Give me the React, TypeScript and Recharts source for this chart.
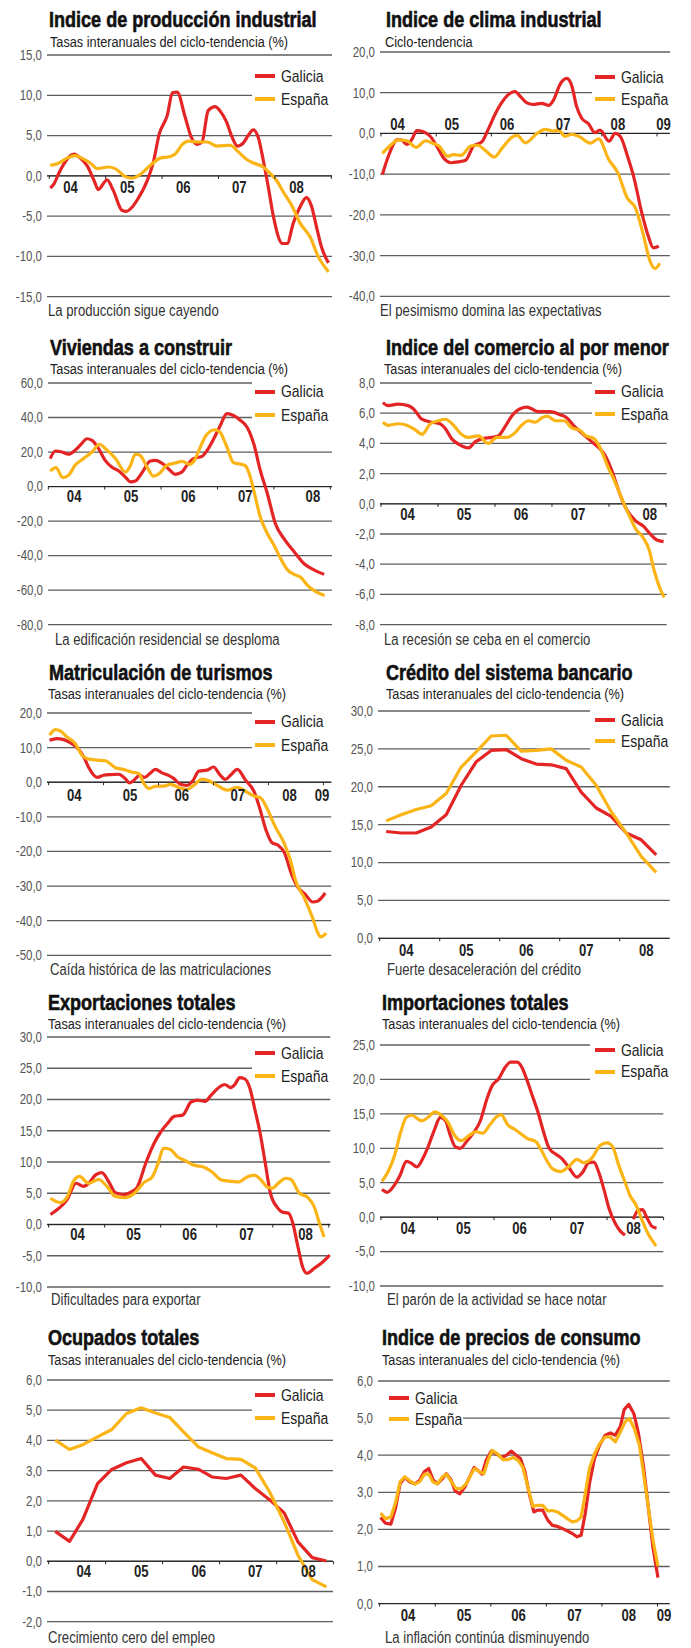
import React from 'react';
import { LineChart, Line, XAxis, YAxis, CartesianGrid, ReferenceLine, ReferenceDot } from 'recharts';

// [months since Jan 2004, value]
type Pt = [number, number | null];

const RED = '#e42526';
const YELLOW = '#fbb415';
// no condensed face is installed, so Liberation Sans is squeezed horizontally (like Arial Narrow)
const FONT = "'Liberation Sans', Arial, sans-serif";
const SQUEEZE = 0.82;

const yearNames = ['04', '05', '06', '07', '08', '09'];
const yearTicks = [0, 12, 24, 36, 48, 60];

// ---------- Indice de producción industrial ----------
const ipiTicks = [15, 10, 5, 0, -5, -10, -15];
const ipiYearPos = [4.5, 16.6, 28.5, 40.4, 52.6];
const ipiGalicia: Pt[] = [[0.2,-1.5],[1,-1.0],[2,0.3],[5.3,2.7],[6.6,2.2],[8.1,1.2],[9.6,-0.7],[10.4,-1.7],[12.3,-0.5],[13.6,-1.8],[15.5,-4.3],[16.4,-4.4],[17.6,-3.9],[18.7,-3.0],[20.9,-0.5],[22.1,1.6],[23.4,5.2],[25.1,7.5],[26.2,10.3],[27.2,10.4],[28.9,7.3],[30.2,4.8],[31.5,3.9],[32.5,4.2],[33.8,8.1],[35.3,8.6],[36.4,8.0],[37.7,6.7],[38.9,4.8],[40,3.7],[41.3,4.1],[42.3,5.0],[43.4,5.7],[44.5,4.7],[45.5,2.0],[46.6,-1.4],[47.7,-5.1],[49.6,-8.4],[50.6,-8.4],[51.9,-5.9],[53.4,-3.8],[54.7,-2.7],[55.7,-3.6],[57,-6.7],[57.9,-8.8],[59.4,-10.8]];
const ipiEspana: Pt[] = [[0.2,1.3],[1.7,1.5],[3.8,2.2],[5.5,2.5],[7.2,2.1],[8.7,1.6],[10.2,0.9],[12.6,1.1],[14,0.9],[16.2,-0.1],[17.6,-0.3],[19.4,0.2],[21.1,1.1],[23.6,2.2],[25.7,2.4],[26.8,2.7],[28.3,3.9],[29.6,4.3],[31.7,4.2],[33.6,4.2],[35.7,3.7],[38.5,3.8],[40,3.1],[42.1,2.0],[43.4,1.6],[45.5,1.1],[47,0.3],[48.5,-0.7],[49.8,-2.0],[51.7,-3.8],[53.4,-5.9],[55.5,-7.6],[57.2,-10.0],[59.4,-11.9]];

// ---------- Indice de clima industrial ----------
const climaTicks = [20, 10, 0, -10, -20, -30, -40];
const climaYearPos = [3.6, 15.4, 27.4, 39.6, 51.5, 61.4];
const climaGalicia: Pt[] = [[0.3,-10.1],[1.6,-5.6],[3.6,-1.5],[4.5,-1.6],[5.6,-2.7],[6.7,-1.5],[7.8,0.7],[9.2,0.4],[10.7,-0.7],[12.1,-3.1],[13.6,-6.0],[15.2,-7.2],[16.8,-7.0],[18.4,-6.6],[20.1,-3.1],[21.9,-2.1],[23.3,1.0],[24.8,4.7],[26.2,7.5],[28,9.8],[29.1,10.3],[30.2,9.2],[31.7,7.5],[33.1,7.1],[34.9,7.4],[36.4,6.9],[37.5,8.2],[38.9,12.0],[40.4,13.5],[41.5,11.6],[42.5,6.7],[43.6,3.8],[45.1,2.4],[46.5,0.2],[47.6,0.8],[49.6,-1.9],[50.9,0],[52,-0.7],[53.7,-6.0],[54.9,-10.5],[56.7,-19.5],[58.1,-25.2],[59.2,-28.1],[60.4,-27.7]];
const climaEspana: Pt[] = [[0.3,-4.9],[1.9,-3.1],[3.8,-1.6],[5.6,-1.8],[7.6,-3.4],[9.7,-1.8],[11.2,-2.4],[12.6,-3.1],[14.5,-5.6],[15.7,-5.2],[17.4,-5.4],[19.5,-3.1],[21,-2.9],[22.8,-4.3],[24.6,-5.8],[26.4,-3.5],[28.5,-0.9],[29.6,-0.5],[31.4,-2.3],[33.9,0],[35.7,1.0],[37.5,0.6],[38.6,0.8],[40,-0.7],[41.5,-0.2],[43,-0.7],[45.5,-2.4],[47.3,-1.3],[49.5,-6.4],[51.5,-9.7],[53.5,-15.8],[55.3,-18.3],[57.1,-25.2],[58.4,-31.1],[59.6,-33.2],[60.6,-31.9]];

// ---------- Viviendas a construir ----------
const vivTicks = [60, 40, 20, 0, -20, -40, -60, -80];
const vivYearPos = [5.5, 17.6, 29.8, 41.9, 56.3];
const vivGalicia: Pt[] = [[0.4,16.2],[1.5,20.6],[2.9,20.0],[4.3,18.7],[5.7,21.0],[7.2,25.2],[8.2,27.7],[9.3,26.8],[10.7,22.0],[12.1,15.2],[13.5,11.3],[15,9.0],[16.4,5.5],[17.5,2.7],[18.5,3.2],[19.9,7.9],[21.7,14.8],[22.8,15.2],[24.5,12.9],[25.9,9.4],[27,7.1],[28.4,8.3],[29.5,12.3],[30.9,16.2],[32.7,17.5],[33.8,21.0],[35.2,27.7],[36.6,35.4],[38,42.2],[39.4,41.2],[40.9,38.3],[42.3,34.4],[43.7,24.9],[45.1,9.4],[46.6,-4.0],[48.3,-21.4],[50.1,-30.1],[52.3,-37.8],[54.5,-44.9],[56.6,-48.4],[58.7,-50.9]];
const vivEspana: Pt[] = [[0.4,9.0],[1.6,11.0],[3.1,5.2],[4.3,6.5],[5.7,12.3],[7.5,16.2],[9.3,20.0],[10.9,24.5],[12.1,22.1],[14.3,16.2],[16.4,8.4],[17.5,12.3],[18.5,18.7],[19.5,18.1],[21,11.3],[22.4,6.0],[23.8,8.0],[25.2,12.3],[27,13.6],[28.5,14.6],[30,12.9],[31.1,15.2],[32.2,22.0],[33.6,29.7],[35.4,32.9],[36.5,31.6],[38,22.9],[39.4,13.9],[40.9,13.0],[41.9,12.1],[42.8,7.1],[43.7,-2.1],[45.1,-17.6],[46.6,-27.2],[48,-33.9],[49.4,-41.6],[50.8,-48.0],[52.3,-50.9],[53.7,-52.6],[55.1,-57.1],[56.9,-60.9],[58.8,-63.2]];

// ---------- Indice del comercio al por menor ----------
const comTicks = [8, 6, 4, 2, 0, -2, -4, -6, -8];
const comYearPos = [5.6, 17.5, 29.5, 41.5, 56.6];
const comGalicia: Pt[] = [[0.4,6.7],[1.5,6.5],[3.6,6.6],[5.7,6.5],[6.8,6.3],[8.6,5.6],[10.7,5.4],[12.4,5.3],[13.5,5.0],[14.9,4.3],[16.6,3.9],[18.4,3.7],[19.8,4.1],[21.2,4.3],[23.3,4.4],[24.7,4.5],[26.1,5.1],[27.5,5.8],[29.3,6.3],[30.7,6.4],[31.7,6.3],[33.1,6.1],[35.6,6.1],[37.7,5.9],[39.1,5.7],[40.5,5.2],[42.6,4.6],[44.4,4.1],[45.9,3.7],[47.2,3.2],[48.6,2.2],[50,0.9],[51.4,-0.2],[53.5,-1.1],[55.3,-1.5],[56.7,-2.0],[58.1,-2.4],[59.5,-2.5]];
const comEspana: Pt[] = [[0.4,5.4],[1.5,5.2],[3.6,5.3],[5.4,5.2],[7.2,4.9],[8.6,4.6],[10.4,5.3],[12.1,5.5],[13.5,5.6],[15.3,5.2],[16.6,4.7],[18.4,4.4],[20.5,4.5],[22.6,4.0],[24.4,4.4],[26.5,4.4],[28.2,4.7],[29.6,5.2],[31.1,5.5],[32.5,5.4],[33.9,5.7],[35,5.8],[36.8,5.5],[38.5,5.5],[40.3,5.0],[41.7,4.9],[43.2,4.5],[44.9,4.3],[46.3,3.6],[47.7,2.5],[49.2,1.5],[50.9,0.2],[52.3,-0.8],[53.7,-1.7],[55.1,-2.2],[56.5,-3.1],[57.5,-4.4],[58.6,-5.5],[59.6,-6.2]];

// ---------- Matriculación de turismos ----------
const matTicks = [20, 10, 0, -10, -20, -30, -40, -50];
const matYearPos = [5.6, 17.8, 29.1, 41.3, 52.6, 59.7];
const matGalicia: Pt[] = [[0.2,12.1],[1.8,12.6],[3.3,12.3],[4.8,11.4],[6.2,10.0],[7.7,7.3],[8.7,4.4],[10.6,1.4],[12,2.0],[13.5,2.2],[15.3,2.3],[16.7,1.1],[17.7,-0.2],[18.5,0.4],[19.9,2.0],[20.9,1.4],[22.1,2.5],[23.3,3.7],[24.8,2.7],[26.2,2.0],[27.3,1.1],[28.8,-0.6],[30.2,-0.9],[31.5,0.4],[32.8,3.2],[34.6,3.5],[36,4.4],[37.5,2.0],[38.6,0.8],[39.7,2.0],[41.2,3.7],[43,0.6],[44.9,-2.8],[46,-7.1],[47.5,-13.9],[48.8,-17.5],[50.1,-18.2],[51.5,-20.4],[53,-26.4],[54.4,-30.3],[55.9,-32.2],[57.7,-34.6],[58.8,-34.3],[60.4,-32.0]];
const matEspana: Pt[] = [[0.2,13.6],[1.5,15.2],[2.6,14.8],[4,13.1],[5.8,11.2],[7.3,7.8],[8.5,6.8],[10.6,6.4],[12.4,6.2],[14.6,4.2],[16.4,3.7],[18.2,2.9],[19.7,2.5],[20.8,-0.4],[21.9,-1.8],[23.3,-1.2],[25.2,-1.1],[26.6,-0.6],[28.4,-1.5],[30.2,-2.1],[31.7,-0.9],[33.5,0.9],[35,0.4],[36.8,-0.9],[39,-2.3],[41.2,-1.5],[42.6,-2.3],[44.9,-4.0],[46.3,-4.5],[47.7,-7.6],[49.5,-12.9],[51.4,-17.5],[52.8,-22.5],[53.9,-28.3],[55.9,-33.6],[57.7,-39.4],[58.7,-43.3],[59.4,-44.7],[60.6,-43.6]];

// ---------- Crédito del sistema bancario ----------
const credTicks = [30, 25, 20, 15, 10, 5, 0];
const credYearPos = [5.3, 17.3, 29.3, 41.3, 53.3];
const credGalicia: Pt[] = [[1.3,14.1],[4.3,13.9],[7.3,13.9],[10.3,14.7],[13.3,16.3],[16.3,20.2],[19.3,23.3],[22.3,24.8],[25.3,24.9],[28.3,23.7],[31.3,23.0],[34.3,22.9],[37.3,22.4],[40.3,19.3],[43.3,17.2],[46.3,16.1],[49.3,13.9],[52.3,13.0],[55.3,11.0]];
const credEspana: Pt[] = [[1.3,15.5],[4.3,16.3],[7.3,17.0],[10.3,17.5],[13.3,19.1],[16.3,22.6],[19.3,24.6],[22.3,26.7],[25.3,26.8],[28.3,24.7],[31.3,24.8],[34.3,25.0],[37.3,23.5],[40.3,22.6],[43.3,20.2],[46.3,16.7],[49.3,13.9],[52.3,10.8],[55.3,8.7]];

// ---------- Exportaciones totales ----------
const expTicks = [30, 25, 20, 15, 10, 5, 0, -5, -10];
const expYearPos = [6.2, 18.2, 30.2, 42.4, 55];
const expGalicia: Pt[] = [[0.4,1.6],[2.2,2.6],[3.9,3.9],[5.9,6.6],[7.5,6.1],[8.6,6.6],[10,7.9],[11.4,8.3],[12.9,6.8],[14.3,5.1],[16.1,4.8],[17.9,5.3],[19,6.0],[20.8,9.8],[22.6,13.0],[24,14.8],[25.5,16.2],[26.9,17.3],[28.7,17.5],[30.5,19.6],[31.9,19.9],[33.5,19.7],[34.8,20.7],[36.6,22.0],[37.7,22.4],[39,21.9],[39.9,22.4],[40.9,23.5],[42,23.3],[43.1,21.8],[44.2,18.3],[45.3,14.6],[46.4,9.8],[47.5,5.0],[49,2.7],[50,2.0],[51.4,1.8],[52.3,0.2],[53.4,-3.6],[54.4,-6.8],[55.3,-7.8],[56.9,-7.0],[58.7,-6.0],[60.2,-4.9]];
const expEspana: Pt[] = [[0.4,4.2],[2.5,3.5],[3.9,4.3],[5.4,7.0],[6.6,7.7],[8.6,6.6],[10.7,7.2],[12.5,6.1],[14.3,4.5],[16.4,4.3],[18.2,4.9],[20.4,6.7],[22.2,7.6],[23.3,9.5],[24.7,12.2],[26.1,12.0],[27.5,10.9],[29.3,10.2],[31.1,9.5],[33.2,9.2],[35,8.4],[37.1,7.1],[39.3,6.9],[40.7,6.8],[42.5,7.6],[44,7.9],[45.4,7.2],[46.8,6.0],[47.9,5.8],[49.3,6.7],[50.8,7.4],[51.9,7.2],[53.7,5.0],[55.4,4.4],[56.9,2.8],[58,0.2],[59,-2.0]];

// ---------- Importaciones totales ----------
const impTicks = [25, 20, 15, 10, 5, 0, -5, -10];
const impYearPos = [5.7, 17.5, 29.4, 41.6, 53.6];
const impGalicia: Pt[] = [[0.2,4.0],[1.3,3.6],[2.6,4.4],[4,6.0],[5.4,8.1],[6.5,7.8],[7.6,7.3],[9,8.7],[10.1,10.4],[11.4,12.8],[12.6,14.5],[13.7,14.0],[14.7,11.9],[15.8,10.2],[16.8,10.0],[18.3,11.1],[19.7,12.3],[21.1,14.0],[22.5,17.2],[23.6,19.1],[25,20.1],[26.3,21.7],[27.5,22.5],[28.9,22.5],[29.8,21.9],[31,19.9],[32.1,17.7],[33.3,15.3],[34.5,12.4],[35.7,10.0],[37,9.2],[38.4,8.5],[39.8,7.3],[41.6,5.8],[42.8,6.5],[44.1,7.9],[45.2,8.0],[46.2,6.6],[47.3,4.1],[48.4,1.3],[49.8,-1.0],[50.9,-2.1],[51.8,-2.6],[52.7,null],[53.6,-0.3],[54.6,1.0],[55.5,1.1],[56.4,0],[57.5,-1.3],[58.5,-1.6]];
const impEspana: Pt[] = [[0.2,5.2],[1.5,6.6],[2.9,9.0],[4.2,12.4],[5.4,14.5],[6.5,14.8],[8.6,14.0],[10,14.5],[11.4,15.3],[12.8,14.8],[14.2,13.8],[15.6,11.9],[17,11.1],[18.8,11.9],[20.2,12.4],[21.6,12.2],[23,13.3],[24.4,14.5],[25.5,14.9],[26.9,13.4],[28.3,12.8],[29.7,12.1],[31.1,11.4],[32.8,11.0],[33.9,9.9],[35.3,8.1],[36.3,7.1],[38.1,6.6],[39.8,7.3],[41.6,8.4],[43,7.9],[44.8,8.6],[46.5,10.4],[48,10.8],[49.2,10.2],[50.4,7.7],[51.8,5.1],[52.9,3.1],[54.1,1.8],[55.3,-0.2],[56.7,-2.4],[57.8,-3.6],[58.4,-4.2]];

// ---------- Ocupados totales ----------
const ocuTicks = [6, 5, 4, 3, 2, 1, 0, -1, -2];
const ocuYearPos = [7.4, 19.5, 31.6, 43.5, 54.7];
const ocuGalicia: Pt[] = [[1.4,0.99],[4.4,0.66],[7.2,1.38],[10.3,2.57],[13.3,3.04],[16.4,3.26],[19.5,3.40],[22.5,2.85],[25.5,2.74],[28.4,3.12],[31.6,3.04],[34.4,2.79],[37.4,2.74],[40.5,2.85],[43.5,2.41],[46.5,2.04],[49.6,1.60],[52.5,0.64],[55.5,0.12],[58.5,0.01]];
const ocuEspana: Pt[] = [[1.4,4.01],[4.4,3.70],[7.2,3.86],[10.3,4.12],[13.3,4.36],[16.4,4.89],[19.5,5.08],[22.5,4.91],[25.5,4.76],[28.4,4.28],[31.6,3.78],[34.4,3.59],[37.4,3.40],[40.5,3.37],[43.5,3.09],[46.5,2.30],[49.6,1.30],[52.5,0.20],[55.5,-0.61],[58.5,-0.85]];

// ---------- Indice de precios de consumo ----------
const ipcTicks = [6, 5, 4, 3, 2, 1, 0];
const ipcYearPos = [6.1, 18.2, 30, 42.1, 53.8, 61.4];
const ipcGalicia: Pt[] = [[0.2,2.32],[1.2,2.17],[2.4,2.14],[3.4,2.56],[4.4,3.23],[5.4,3.40],[6.5,3.28],[7.6,3.23],[8.6,3.32],[9.6,3.55],[10.6,3.64],[11.5,3.34],[12.5,3.23],[13.5,3.36],[14.4,3.50],[15.3,3.36],[16.3,3.04],[17.3,2.96],[18.4,3.14],[19.4,3.41],[20.4,3.67],[21.2,3.59],[22.1,3.49],[23,3.86],[24.1,4.11],[25.2,4.04],[26.3,3.94],[27.4,4.0],[28.4,4.11],[29.5,4.0],[30.4,3.91],[31.3,3.59],[32.3,2.96],[33.3,2.47],[34.1,2.52],[35.2,2.52],[36.3,2.25],[37.3,2.11],[38.4,2.08],[39.5,2.02],[40.5,1.96],[41.6,1.89],[42.6,1.80],[43.5,1.84],[44.4,2.43],[45.3,3.23],[46.4,3.91],[47.5,4.27],[48.7,4.54],[49.8,4.60],[50.9,4.54],[52,4.78],[52.8,5.23],[53.8,5.37],[54.9,5.12],[55.9,4.58],[57,3.68],[58.1,2.51],[59,1.53],[60.1,0.70]];
const ipcEspana: Pt[] = [[0.2,2.44],[1.2,2.29],[2.4,2.33],[3.4,2.71],[4.4,3.28],[5.4,3.42],[6.5,3.31],[7.6,3.22],[8.6,3.28],[9.7,3.49],[10.6,3.49],[11.5,3.28],[12.5,3.23],[13.5,3.41],[14.4,3.49],[15.5,3.28],[16.5,3.10],[17.6,3.10],[18.7,3.23],[19.8,3.50],[20.5,3.64],[21.6,3.55],[22.5,3.50],[23.4,3.86],[24.3,4.13],[25.4,4.04],[26.6,3.88],[27.7,3.88],[28.8,3.94],[29.9,3.86],[30.9,3.68],[32,3.14],[33.1,2.62],[34.1,2.65],[35.2,2.65],[36.3,2.50],[37.3,2.51],[38.4,2.47],[39.5,2.38],[40.5,2.29],[41.6,2.20],[42.6,2.23],[43.5,2.33],[44.4,2.96],[45.3,3.64],[46.4,4.04],[47.5,4.31],[48.7,4.49],[49.8,4.49],[50.9,4.36],[52,4.63],[53,4.90],[53.9,4.99],[55,4.72],[56.1,4.27],[57.1,3.41],[58.2,2.43],[59.1,1.66],[60.1,1.01]];

const TASAS = 'Tasas interanuales del ciclo-tendencia (%)';

interface PanelCfg {
  title: string;
  subtitle: string;
  caption: string;
  galicia: Pt[];
  espana: Pt[];
  yTicks: number[];
  yearPos: number[];
  plot: { left: number; right: number; top: number; bottom: number };
  x0: number; // px of Jan 2004
  ppm: number; // px per month
  title_: [number, number];
  sub_: [number, number];
  cap_: [number, number];
  legend: { segX: number; y1: number; y2: number; boxLeft: number; boxRight: number };
  labelDy: number;
  curve: 'monotone' | 'linear';
}

const panels: PanelCfg[] = [
  {
    title: 'Indice de producción industrial', subtitle: TASAS, caption: 'La producción sigue cayendo',
    galicia: ipiGalicia, espana: ipiEspana, yTicks: ipiTicks, yearPos: ipiYearPos,
    plot: { left: 46.7, right: 331.7, top: 55, bottom: 296.7 }, x0: 49, ppm: 4.7,
    title_: [49, 28], sub_: [50, 47], cap_: [48, 317],
    legend: { segX: 255, y1: 76, y2: 99, boxLeft: 252, boxRight: 333 }, labelDy: 12, curve: 'monotone',
  },
  {
    title: 'Indice de clima industrial', subtitle: 'Ciclo-tendencia', caption: 'El pesimismo domina las expectativas',
    galicia: climaGalicia, espana: climaEspana, yTicks: climaTicks, yearPos: climaYearPos,
    plot: { left: 380, right: 670, top: 51.7, bottom: 296 }, x0: 381, ppm: 4.6,
    title_: [385.7, 28], sub_: [385, 47], cap_: [380, 317],
    legend: { segX: 595, y1: 77, y2: 99, boxLeft: 592, boxRight: 671 }, labelDy: -9, curve: 'monotone',
  },
  {
    title: 'Viviendas a construir', subtitle: TASAS, caption: 'La edificación residencial se desploma',
    galicia: vivGalicia, espana: vivEspana, yTicks: vivTicks, yearPos: vivYearPos,
    plot: { left: 47.7, right: 331.7, top: 382.7, bottom: 624.3 }, x0: 48, ppm: 4.7,
    title_: [50, 356], sub_: [50, 374], cap_: [55, 646],
    legend: { segX: 255, y1: 391.7, y2: 415, boxLeft: 252, boxRight: 333 }, labelDy: 10, curve: 'monotone',
  },
  {
    title: 'Indice del comercio al por menor', subtitle: TASAS, caption: 'La recesión se ceba en el comercio',
    galicia: comGalicia, espana: comEspana, yTicks: comTicks, yearPos: comYearPos,
    plot: { left: 380, right: 666.7, top: 382.7, bottom: 624.3 }, x0: 381, ppm: 4.75,
    title_: [385.7, 356], sub_: [384, 374], cap_: [384, 646],
    legend: { segX: 595, y1: 391.7, y2: 414, boxLeft: 592, boxRight: 668 }, labelDy: 11, curve: 'monotone',
  },
  {
    title: 'Matriculación de turismos', subtitle: TASAS, caption: 'Caída histórica de las matriculaciones',
    galicia: matGalicia, espana: matEspana, yTicks: matTicks, yearPos: matYearPos,
    plot: { left: 46.7, right: 331, top: 712.7, bottom: 955 }, x0: 48.3, ppm: 4.58,
    title_: [49, 681], sub_: [48, 699], cap_: [50, 976],
    legend: { segX: 255, y1: 721.7, y2: 745, boxLeft: 252, boxRight: 332 }, labelDy: 13, curve: 'monotone',
  },
  {
    title: 'Crédito del sistema bancario', subtitle: TASAS, caption: 'Fuerte desaceleración del crédito',
    galicia: credGalicia, espana: credEspana, yTicks: credTicks, yearPos: credYearPos,
    plot: { left: 378.3, right: 670, top: 711, bottom: 938.3 }, x0: 380, ppm: 5,
    title_: [385.7, 681], sub_: [385.7, 699], cap_: [386.7, 976],
    legend: { segX: 595, y1: 720, y2: 741, boxLeft: 590, boxRight: 671 }, labelDy: 12, curve: 'linear',
  },
  {
    title: 'Exportaciones totales', subtitle: TASAS, caption: 'Dificultades para exportar',
    galicia: expGalicia, espana: expEspana, yTicks: expTicks, yearPos: expYearPos,
    plot: { left: 46.7, right: 330, top: 1036.7, bottom: 1286.7 }, x0: 48.3, ppm: 4.67,
    title_: [48, 1011], sub_: [48, 1029], cap_: [50.7, 1306],
    legend: { segX: 255, y1: 1053, y2: 1076, boxLeft: 252, boxRight: 331 }, labelDy: 10, curve: 'monotone',
  },
  {
    title: 'Importaciones totales', subtitle: TASAS, caption: 'El parón de la actividad se hace notar',
    galicia: impGalicia, espana: impEspana, yTicks: impTicks, yearPos: impYearPos,
    plot: { left: 380, right: 663.3, top: 1045, bottom: 1286 }, x0: 381, ppm: 4.71,
    title_: [382.3, 1011], sub_: [382.3, 1029], cap_: [387.3, 1306],
    legend: { segX: 595, y1: 1050, y2: 1071.7, boxLeft: 590, boxRight: 664 }, labelDy: 11, curve: 'monotone',
  },
  {
    title: 'Ocupados totales', subtitle: TASAS, caption: 'Crecimiento cero del empleo',
    galicia: ocuGalicia, espana: ocuEspana, yTicks: ocuTicks, yearPos: ocuYearPos,
    plot: { left: 46.7, right: 332.7, top: 1380, bottom: 1621.7 }, x0: 48.3, ppm: 4.75,
    title_: [48, 1346], sub_: [48, 1365], cap_: [47.7, 1644],
    legend: { segX: 255, y1: 1395, y2: 1418, boxLeft: 252, boxRight: 334 }, labelDy: 10, curve: 'linear',
  },
  {
    title: 'Indice de precios de consumo', subtitle: TASAS, caption: 'La inflación continúa disminuyendo',
    galicia: ipcGalicia, espana: ipcEspana, yTicks: ipcTicks, yearPos: ipcYearPos,
    plot: { left: 378.3, right: 670, top: 1380.7, bottom: 1603.3 }, x0: 380, ppm: 4.63,
    title_: [382.3, 1346], sub_: [382.3, 1365], cap_: [385, 1644],
    legend: { segX: 389, y1: 1398, y2: 1419, boxLeft: 377, boxRight: 463 }, labelDy: 12, curve: 'linear',
  },
];

const toRows = (pts: Pt[]) => pts.map(([m, v]) => ({ m, v }));
const fmt = (v: number) => v.toFixed(1).replace('.', ',');

// text placed by its baseline, squeezed to a narrow width
const Txt = ({ x, base, size, weight = 400, color = '#222', heavy = false, children }: any) => (
  <div
    style={{
      position: 'absolute', left: x, top: base - 0.85 * size, fontSize: size, lineHeight: `${size}px`,
      fontWeight: weight, color, fontFamily: FONT, whiteSpace: 'nowrap',
      transform: `scaleX(${SQUEEZE})`, transformOrigin: 'left center',
      WebkitTextStroke: heavy ? `0.6px ${color}` : undefined,
    }}
  >
    {children}
  </div>
);

const YTick = ({ x, y, payload }: any) => (
  <text
    x={0} y={0} transform={`translate(${x},${y}) scale(${SQUEEZE},1)`}
    textAnchor="end" dominantBaseline="central" fill="#555" fontSize={14} fontFamily={FONT}
  >
    {fmt(payload.value)}
  </text>
);

const AXW = 46, MT = 10, MB = 22, MR = 6;

const Panel = ({ p }: { p: PanelCfg }) => {
  const plotW = p.plot.right - p.plot.left;
  const plotH = p.plot.bottom - p.plot.top;
  const xDomain = [(p.plot.left - p.x0) / p.ppm, (p.plot.right - p.x0) / p.ppm];
  const yMax = p.yTicks[0];
  const yMin = p.yTicks[p.yTicks.length - 1];
  const L = p.legend;

  return (
    <>
      <Txt x={p.title_[0]} base={p.title_[1]} size={22} weight={700} color="#111" heavy>{p.title}</Txt>
      <Txt x={p.sub_[0]} base={p.sub_[1]} size={15.5} color="#222">{p.subtitle}</Txt>
      <Txt x={p.cap_[0]} base={p.cap_[1]} size={16} color="#333">{p.caption}</Txt>

      <div style={{ position: 'absolute', left: p.plot.left - AXW, top: p.plot.top - MT }}>
        <LineChart width={plotW + AXW + MR} height={plotH + MT + MB} margin={{ top: MT, right: MR, bottom: MB, left: 0 }}>
          <CartesianGrid vertical={false} stroke="#5e5e5e" strokeWidth={1.3} />
          <XAxis type="number" dataKey="m" domain={xDomain} allowDataOverflow hide />
          <YAxis
            type="number"
            domain={[yMin, yMax]}
            ticks={p.yTicks}
            interval={0}
            allowDataOverflow
            width={AXW}
            axisLine={false}
            tickLine={false}
            tickSize={0}
            tickMargin={5}
            tick={<YTick />}
          />
          <ReferenceLine y={0} stroke="#222" strokeWidth={1} />
          <Line
            data={toRows(p.galicia)} dataKey="v" type={p.curve} stroke={RED} strokeWidth={3.2}
            dot={false} isAnimationActive={false} strokeLinejoin="round" connectNulls={false}
          />
          <Line
            data={toRows(p.espana)} dataKey="v" type={p.curve} stroke={YELLOW} strokeWidth={3.2}
            dot={false} isAnimationActive={false} strokeLinejoin="round"
          />
          {yearTicks.map((m) => (
            <ReferenceDot
              key={`t${m}`} x={m} y={0} r={0} ifOverflow="visible"
              shape={(s: any) => <line x1={s.cx} x2={s.cx} y1={s.cy} y2={s.cy + 3} stroke="#222" strokeWidth={1} />}
            />
          ))}
          {p.yearPos.map((m, i) => (
            <ReferenceDot
              key={`l${i}`} x={m} y={0} r={0} ifOverflow="visible"
              shape={(s: any) => (
                <text
                  x={0} y={0} transform={`translate(${s.cx},${s.cy + p.labelDy}) scale(${SQUEEZE},1)`}
                  textAnchor="middle" dominantBaseline="central"
                  fontSize={16} fontWeight={700} fill="#222" fontFamily={FONT}
                >
                  {yearNames[i]}
                </text>
              )}
            />
          ))}
        </LineChart>
      </div>

      <div
        style={{
          position: 'absolute', left: L.boxLeft, top: L.y1 - 13, width: L.boxRight - L.boxLeft,
          height: L.y2 - L.y1 + 25, background: '#fff',
        }}
      />
      {[
        { y: L.y1, color: RED, name: 'Galicia' },
        { y: L.y2, color: YELLOW, name: 'España' },
      ].map((r) => (
        <React.Fragment key={r.name}>
          <div style={{ position: 'absolute', left: L.segX, top: r.y - 2, width: 20, height: 4, background: r.color }} />
          <Txt x={L.segX + 26} base={r.y + 6} size={17} color="#222">{r.name}</Txt>
        </React.Fragment>
      ))}
    </>
  );
};

export default function App() {
  return (
    <div style={{ position: 'absolute', left: 0, top: 0, width: 691, height: 1648, background: '#fff', overflow: 'hidden' }}>
      {panels.map((p) => (
        <Panel key={p.title} p={p} />
      ))}
    </div>
  );
}
